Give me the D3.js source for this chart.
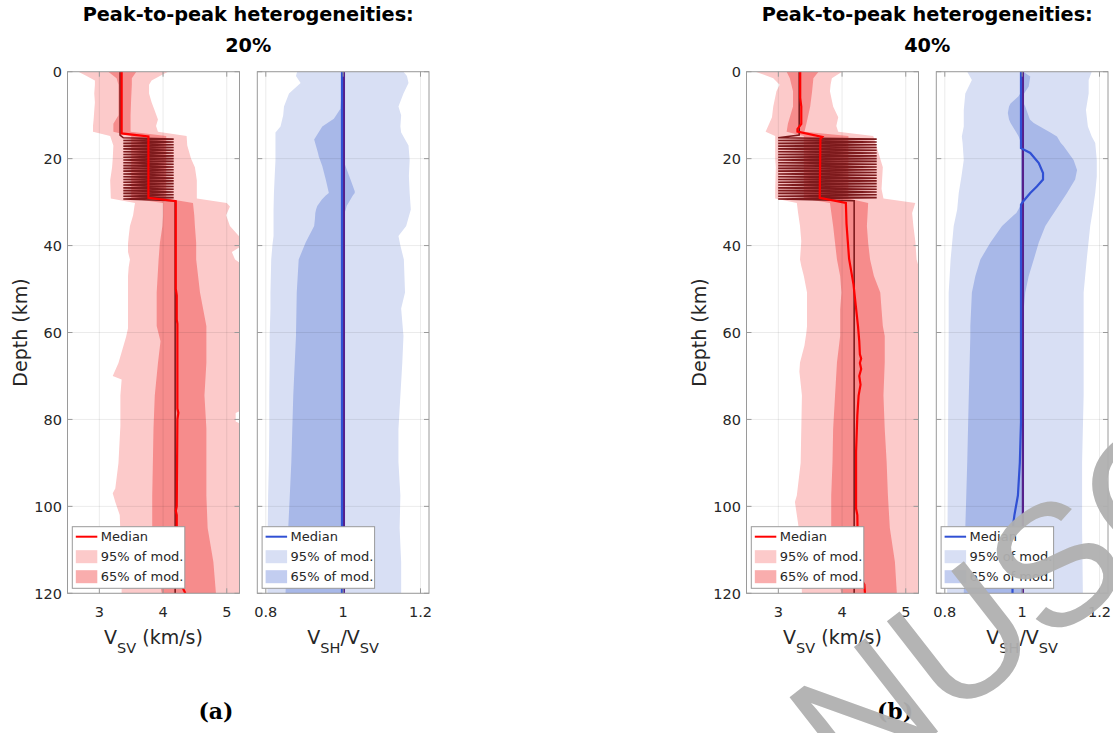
<!DOCTYPE html>
<html><head><meta charset="utf-8">
<script src="https://cdn.jsdelivr.net/npm/d3@7"></script>
<style>body{margin:0;background:#fff}svg{display:block}</style>
</head><body><svg id="c" width="1113" height="733"></svg>
<script>
// ---------------- DATA ----------------
const depthTicks=[0,20,40,60,80,100,120];
const vsvTicks=[3,4,5];
const ratioTicks=[0.8,1,1.2];
const vsvDomain=[2.5,5.2];
const ratioDomain=[0.778,1.222];
const depthDomain=[0,120];
const panelTitle1=["Peak-to-peak heterogeneities:","Peak-to-peak heterogeneities:"];
const panelTitle2=["20%","40%"];
const panelTags=["(a)","(b)"];
const legendLabels=["Median","95% of mod.","65% of mod."];
const watermarkText="MANUSCRIPT";

// zig-zag layered true model (15-29 km)
const zigDepth=[15.2,15.52,15.84,16.16,16.48,16.8,17.12,17.44,17.76,18.08,18.4,18.72,19.04,19.36,19.68,20.0,20.32,20.64,20.96,21.28,21.6,21.92,22.24,22.56,22.88,23.2,23.52,23.84,24.16,24.48,24.8,25.12,25.44,25.76,26.08,26.4,26.72,27.04,27.36,27.68,28.0,28.32,28.64,28.96,29.28];
const zigVsvA=[3.376,4.167,3.376,4.167,3.376,4.167,3.376,4.167,3.376,4.167,3.376,4.167,3.376,4.167,3.376,4.167,3.376,4.167,3.376,4.167,3.376,4.167,3.376,4.167,3.376,4.167,3.376,4.167,3.376,4.167,3.376,4.167,3.376,4.167,3.376,4.167,3.376,4.167,3.376,4.167,3.376,4.167,3.376,4.167,3.376];
const zigVsvB=[2.997,4.544,2.997,4.544,2.997,4.544,2.997,4.544,2.997,4.544,2.997,4.544,2.997,4.544,2.997,4.544,2.997,4.544,2.997,4.544,2.997,4.544,2.997,4.544,2.997,4.544,2.997,4.544,2.997,4.544,2.997,4.544,2.997,4.544,2.997,4.544,2.997,4.544,2.997,4.544,2.997,4.544,2.997,4.544,2.997];
const trueTopDepth=[0,14.6];
const trueBotDepth=[29.7,120];
const trueTopVsvA=[3.325,3.325], trueBotVsvA=[4.19,4.19];
const trueTopVsvB=[3.327,3.327], trueBotVsvB=[4.19,4.19];
const trueRatioDepth=[0,120], trueRatio=[1.002,1.002];

// panel (a) Vsv
const aVsvMedDepth=[0,14.2,14.9,29.0,29.8,50,51.5,57,58,77.5,78.5,80,100,101,102,117.5,118.5,120];
const aVsvMed=[3.35,3.35,3.77,3.77,4.20,4.20,4.215,4.215,4.225,4.225,4.24,4.225,4.215,4.20,4.215,4.215,4.30,4.35];
const aVsv95Depth=[0,1,2,3,5,7,9,11,12.5,13.8,14.8,17,20,22,25,29.2,30.2,31,33,35.5,38,39.5,41.5,43.2,45,47,59,61,63,67,70,70.8,74.5,77.5,78.5,80.5,81.5,90,95.9,97,99,102,110,120];
const aVsv95Lo=[2.67,2.80,2.93,2.93,2.92,2.93,2.92,2.91,2.90,2.90,3.17,3.22,3.21,3.20,3.17,3.18,3.56,3.55,3.53,3.48,3.46,3.45,3.45,3.48,3.46,3.45,3.45,3.42,3.38,3.30,3.21,3.35,3.33,3.33,3.33,3.33,3.33,3.30,3.25,3.21,3.25,3.32,3.34,3.35];
const aVsv95Hi=[4.08,3.95,3.82,3.78,3.78,3.82,3.87,3.92,3.89,3.92,4.37,4.38,4.44,4.50,4.53,4.53,5.00,5.05,4.99,5.05,5.20,5.30,5.08,5.13,5.30,5.30,5.30,5.30,5.30,5.30,5.30,5.30,5.30,5.30,5.14,5.14,5.30,5.30,5.30,5.30,5.30,5.30,5.30,5.30];
const aVsv65Depth=[0,1.5,3,6,10,12,13.8,14.8,29.2,30.2,33,35.5,39.4,43.2,50.8,58.5,62,67,74.5,82,90,97.5,105,112.8,120];
const aVsv65Lo=[3.14,3.27,3.30,3.30,3.30,3.22,3.22,3.50,3.50,4.00,4.00,3.99,3.95,3.93,3.90,3.90,3.96,3.92,3.87,3.85,3.84,3.83,3.83,3.88,3.98];
const aVsv65Hi=[3.58,3.51,3.51,3.50,3.49,3.49,3.49,4.05,4.05,4.47,4.49,4.50,4.52,4.52,4.58,4.68,4.68,4.68,4.65,4.68,4.68,4.68,4.70,4.79,4.83];

// panel (a) Vsh/Vsv
const aRatioMedDepth=[0,120];
const aRatioMed=[0.997,0.997];
const aRatio95Depth=[0,1,2.6,5,8,10,12.6,14,17,20.3,24,27.9,31.7,35.5,37.8,40,43.2,50.8,54.5,60.8,66.9,74.5,82.2,89.8,97.5,105,112.8,120];
const aRatio95Lo=[0.881,0.878,0.890,0.860,0.847,0.845,0.838,0.825,0.825,0.825,0.823,0.821,0.820,0.820,0.820,0.817,0.814,0.812,0.812,0.810,0.810,0.809,0.809,0.808,0.806,0.805,0.805,0.804];
const aRatio95Hi=[1.156,1.165,1.169,1.156,1.143,1.150,1.148,1.150,1.169,1.172,1.170,1.172,1.175,1.163,1.143,1.148,1.157,1.160,1.150,1.156,1.153,1.148,1.143,1.143,1.148,1.146,1.150,1.150];
const aRatio65Depth=[0,6,8.5,10.8,12.6,15.6,18.7,19.5,21.7,24.8,27.5,27.9,28.5,29.4,30.9,31.7,32.5,33.9,35.5,39.3,43.2,50.8,60.8,74.5,89.8,97.5,105,120];
const aRatio65Lo=[0.995,0.995,0.993,0.976,0.946,0.925,0.935,0.937,0.946,0.955,0.962,0.963,0.955,0.945,0.933,0.930,0.928,0.927,0.925,0.903,0.885,0.880,0.878,0.871,0.866,0.862,0.858,0.851];
const aRatio65Hi=[0.998,0.998,0.998,0.998,0.998,0.998,0.998,0.998,1.006,1.019,1.030,1.030,1.025,1.019,1.009,1.007,1.003,0.999,0.998,0.998,0.998,0.998,0.998,0.998,0.998,0.998,0.998,0.998];

// panel (b) Vsv
const bVsvMedDepth=[0,6,8,12,13.2,13.8,15.0,15.5,29.0,30.2,35,43,49,58.5,62,65,66,67,68.4,70,72,74.5,79,87.5,100.5,102,112.6,116,118,120];
const bVsvMed=[3.343,3.343,3.36,3.36,3.30,3.30,3.69,3.66,3.65,4.06,4.07,4.11,4.18,4.25,4.27,4.28,4.30,4.28,4.30,4.27,4.29,4.26,4.24,4.22,4.22,4.24,4.25,4.27,4.35,4.36];
const bVsv95Depth=[0,1.5,3,4.5,8,10.5,12.5,13.8,14.8,20,22,27,29.2,30.2,32.5,35.5,39,43.2,44.7,47,50.8,58.5,60,63,66.9,69,74.5,90,97.5,99,105,112.8,120];
const bVsv95Lo=[2.64,2.92,3.02,2.97,2.92,2.90,2.84,2.80,2.95,2.95,2.96,2.95,2.95,3.29,3.31,3.34,3.36,3.34,3.36,3.40,3.45,3.45,3.44,3.41,3.34,3.33,3.37,3.35,3.29,3.26,3.32,3.35,3.37];
const bVsv95Hi=[4.00,3.84,3.82,3.81,3.86,3.94,3.91,3.94,4.49,4.60,4.64,4.62,4.65,5.15,5.10,5.12,5.15,5.17,5.20,5.25,5.30,5.30,5.30,5.30,5.30,5.30,5.30,5.30,5.30,5.30,5.30,5.30,5.30];
const bVsv65Depth=[0,1.5,4.5,8,12,13.8,14.8,29.2,30.2,35.5,39.4,43.2,47,50.8,54.7,58.5,60.8,66.9,74.5,82.2,89.8,97.5,105,112.8,120];
const bVsv65Lo=[3.13,3.18,3.23,3.23,3.15,3.13,3.40,3.40,3.81,3.86,3.89,3.92,3.97,3.99,3.97,3.97,3.97,3.92,3.89,3.86,3.85,3.83,3.83,3.88,3.99];
const bVsv65Hi=[3.63,3.55,3.53,3.50,3.44,3.41,4.10,4.10,4.41,4.39,4.41,4.44,4.50,4.60,4.62,4.64,4.67,4.67,4.65,4.67,4.70,4.72,4.75,4.83,4.86];

// panel (b) Vsh/Vsv
const bRatioMedDepth=[0,17.6,18.7,21.0,23.3,24.8,26.4,27.9,29.8,30.6,80.6,90,97.5,102,104,120];
const bRatioMed=[0.997,0.997,1.021,1.043,1.054,1.054,1.038,1.021,1.003,0.997,0.997,0.994,0.989,0.980,0.977,0.975];
const bRatio95Depth=[0,1.9,5,8.8,12.6,14.9,16.4,20.3,24.1,27.9,31.7,35.5,43.2,50.8,60.8,74.5,89.8,105,120];
const bRatio95Lo=[0.858,0.870,0.853,0.849,0.849,0.844,0.846,0.849,0.843,0.836,0.832,0.823,0.815,0.810,0.810,0.809,0.808,0.807,0.806];
const bRatio95Hi=[1.180,1.172,1.172,1.165,1.170,1.180,1.189,1.193,1.193,1.189,1.183,1.176,1.167,1.159,1.159,1.159,1.155,1.155,1.157];
const bRatio65Depth=[0,1.1,3.4,5,5.7,7.3,8,9.5,11,11.8,14,14.9,16.4,17.1,20.3,22.6,24.8,27.9,30.2,30.6,32.5,33,35.5,39.3,43.2,47,50.8,54.7,58.5,60.8,74.5,89.8,105,120];
const bRatio65Lo=[0.997,0.997,0.996,0.995,0.990,0.970,0.966,0.963,0.966,0.970,0.985,0.991,0.997,0.997,0.997,0.997,0.997,0.997,0.997,0.997,0.985,0.978,0.948,0.918,0.892,0.879,0.870,0.868,0.866,0.866,0.862,0.858,0.853,0.849];
const bRatio65Hi=[1.003,1.021,1.017,1.005,1.003,1.004,1.008,1.014,1.020,1.030,1.073,1.090,1.100,1.107,1.133,1.142,1.137,1.116,1.099,1.096,1.082,1.078,1.060,1.043,1.030,1.017,1.008,1.004,1.001,1.000,1.000,1.000,1.000,1.000];

// ---------------- STYLE / LAYOUT ----------------
const FONT="'DejaVu Sans', sans-serif";
const C={red95:"#fccaca",red65:"#f68c8c",red65leg:"#f9adad",redMed:"#ff0000",redTrue:"#7d1a1c",
         blue95:"#d8dff4",blue65:"#a8b8e8",blue65leg:"#c2cdf0",blueMed:"#3050d4",blueTrue:"#55208c",
         axis:"#9a9a9a",grid:"rgba(0,0,0,0.08)",text:"#262626"};
const plotTop=71.7, plotBottom=593.3;
const panelDx=[0,679];
const vsvBox=[67.5,239.5], ratioBox=[257.3,429.0];

const svg=d3.select("#c");
svg.append("rect").attr("width",1113).attr("height",733).attr("fill","#fff");
const yScale=d3.scaleLinear().domain(depthDomain).range([plotTop,plotBottom]);

function zip(dep,lo,hi){return dep.map((d,i)=>({d:d,lo:lo[i],hi:hi?hi[i]:null}));}

let clipId=0;
function drawPlot(cfg){
  const x=d3.scaleLinear().domain(cfg.domain).range(cfg.box);
  const g=svg.append("g");
  const id="clip"+(clipId++);
  g.append("clipPath").attr("id",id).append("rect")
    .attr("x",cfg.box[0]).attr("y",plotTop).attr("width",cfg.box[1]-cfg.box[0]).attr("height",plotBottom-plotTop);
  const inner=g.append("g").attr("clip-path",`url(#${id})`);
  const area=d3.area().x0(p=>x(p.lo)).x1(p=>x(p.hi)).y(p=>yScale(p.d));
  cfg.bands.forEach(b=>{
    inner.append("path").datum(zip(b.depth,b.lo,b.hi)).attr("d",area).attr("fill",b.color);
  });
  // grid
  cfg.ticks.forEach(t=>inner.append("line").attr("x1",x(t)).attr("x2",x(t)).attr("y1",plotTop).attr("y2",plotBottom)
     .attr("stroke",C.grid).attr("stroke-width",1));
  depthTicks.forEach(t=>inner.append("line").attr("x1",cfg.box[0]).attr("x2",cfg.box[1]).attr("y1",yScale(t)).attr("y2",yScale(t))
     .attr("stroke",C.grid).attr("stroke-width",1));
  const line=d3.line().x(p=>x(p.lo)).y(p=>yScale(p.d));
  cfg.lines.forEach(l=>{
    inner.append("path").datum(zip(l.depth,l.val)).attr("d",line).attr("fill","none")
      .attr("stroke",l.color).attr("stroke-width",l.width).attr("stroke-linejoin","miter");
  });
  // box
  g.append("rect").attr("x",cfg.box[0]).attr("y",plotTop).attr("width",cfg.box[1]-cfg.box[0]).attr("height",plotBottom-plotTop)
    .attr("fill","none").attr("stroke",C.axis).attr("stroke-width",1);
  const tl=5;
  cfg.ticks.forEach(t=>{
    g.append("line").attr("x1",x(t)).attr("x2",x(t)).attr("y1",plotBottom).attr("y2",plotBottom-tl).attr("stroke",C.axis);
    g.append("line").attr("x1",x(t)).attr("x2",x(t)).attr("y1",plotTop).attr("y2",plotTop+tl).attr("stroke",C.axis);
    g.append("text").attr("x",x(t)).attr("y",plotBottom+23.4).attr("text-anchor","middle")
      .attr("font-family",FONT).attr("font-size",14.5).attr("fill",C.text).text(d3.format("~g")(t));
  });
  depthTicks.forEach(t=>{
    g.append("line").attr("x1",cfg.box[0]).attr("x2",cfg.box[0]+tl).attr("y1",yScale(t)).attr("y2",yScale(t)).attr("stroke",C.axis);
    g.append("line").attr("x1",cfg.box[1]).attr("x2",cfg.box[1]-tl).attr("y1",yScale(t)).attr("y2",yScale(t)).attr("stroke",C.axis);
    if(cfg.showY) g.append("text").attr("x",cfg.box[0]-5.5).attr("y",yScale(t)).attr("dy","0.36em").attr("text-anchor","end")
      .attr("font-family",FONT).attr("font-size",14.5).attr("fill",C.text).text(t);
  });
  // x label
  const xl=g.append("text").attr("x",(cfg.box[0]+cfg.box[1])/2).attr("y",plotBottom+51).attr("text-anchor","middle")
    .attr("font-family",FONT).attr("font-size",19).attr("fill",C.text);
  cfg.xlabel.forEach(part=>{
    const ts=xl.append("tspan").text(part.t);
    if(part.sub) ts.attr("font-size",14.5).attr("dy",9);
    else if(part.after) ts.attr("dy",-9);
  });
  if(cfg.showY){
    g.append("text").attr("transform",`translate(${cfg.box[0]-40.5},${(plotTop+plotBottom)/2}) rotate(-90)`)
      .attr("text-anchor","middle").attr("font-family",FONT).attr("font-size",19).attr("fill",C.text).text("Depth (km)");
  }
  // legend
  const lg=g.append("g").attr("transform",`translate(${cfg.box[0]+4.8},526.7)`);
  lg.append("rect").attr("width",112.5).attr("height",61.6).attr("fill","#fff").attr("stroke",C.axis).attr("stroke-width",1);
  lg.append("line").attr("x1",3.5).attr("x2",25).attr("y1",10).attr("y2",10).attr("stroke",cfg.legend[0]).attr("stroke-width",2);
  lg.append("rect").attr("x",3.5).attr("y",23.5).attr("width",21.5).attr("height",13).attr("fill",cfg.legend[1]);
  lg.append("rect").attr("x",3.5).attr("y",43.5).attr("width",21.5).attr("height",13).attr("fill",cfg.legend[2]);
  legendLabels.forEach((s,i)=>lg.append("text").attr("x",28.5).attr("y",10+20*i).attr("dy","0.36em")
    .attr("font-family",FONT).attr("font-size",13).attr("fill",C.text).text(s));
}

const vsvLabel=[{t:"V"},{t:"SV",sub:true},{t:" (km/s)",after:true}];
const ratioLabel=[{t:"V"},{t:"SH",sub:true},{t:"/V",after:true},{t:"SV",sub:true}];

const panelData=[
 {vsv95:[aVsv95Depth,aVsv95Lo,aVsv95Hi],vsv65:[aVsv65Depth,aVsv65Lo,aVsv65Hi],vsvMed:[aVsvMedDepth,aVsvMed],
  trueVsv:[trueTopDepth.concat(zigDepth,trueBotDepth),trueTopVsvA.concat(zigVsvA,trueBotVsvA)],
  r95:[aRatio95Depth,aRatio95Lo,aRatio95Hi],r65:[aRatio65Depth,aRatio65Lo,aRatio65Hi],rMed:[aRatioMedDepth,aRatioMed]},
 {vsv95:[bVsv95Depth,bVsv95Lo,bVsv95Hi],vsv65:[bVsv65Depth,bVsv65Lo,bVsv65Hi],vsvMed:[bVsvMedDepth,bVsvMed],
  trueVsv:[trueTopDepth.concat(zigDepth,trueBotDepth),trueTopVsvB.concat(zigVsvB,trueBotVsvB)],
  r95:[bRatio95Depth,bRatio95Lo,bRatio95Hi],r65:[bRatio65Depth,bRatio65Lo,bRatio65Hi],rMed:[bRatioMedDepth,bRatioMed]}
];

panelData.forEach((p,i)=>{
  const dx=panelDx[i];
  drawPlot({domain:vsvDomain,box:[vsvBox[0]+dx,vsvBox[1]+dx],ticks:vsvTicks,showY:true,xlabel:vsvLabel,
    bands:[{depth:p.vsv95[0],lo:p.vsv95[1],hi:p.vsv95[2],color:C.red95},{depth:p.vsv65[0],lo:p.vsv65[1],hi:p.vsv65[2],color:C.red65}],
    lines:[{depth:p.trueVsv[0],val:p.trueVsv[1],color:C.redTrue,width:1.6},{depth:p.vsvMed[0],val:p.vsvMed[1],color:C.redMed,width:2.2}],
    legend:[C.redMed,C.red95,C.red65leg]});
  drawPlot({domain:ratioDomain,box:[ratioBox[0]+dx,ratioBox[1]+dx],ticks:ratioTicks,showY:false,xlabel:ratioLabel,
    bands:[{depth:p.r95[0],lo:p.r95[1],hi:p.r95[2],color:C.blue95},{depth:p.r65[0],lo:p.r65[1],hi:p.r65[2],color:C.blue65}],
    lines:[{depth:trueRatioDepth,val:trueRatio,color:C.blueTrue,width:2.2},{depth:p.rMed[0],val:p.rMed[1],color:C.blueMed,width:2.2}],
    legend:[C.blueMed,C.blue95,C.blue65leg]});
  const cx=(vsvBox[0]+ratioBox[1])/2+dx;
  svg.append("text").attr("x",cx).attr("y",20.7).attr("text-anchor","middle").attr("font-family",FONT)
    .attr("font-weight","bold").attr("font-size",19.3).attr("fill","#000").text(panelTitle1[i]);
  svg.append("text").attr("x",cx).attr("y",51.7).attr("text-anchor","middle").attr("font-family",FONT)
    .attr("font-weight","bold").attr("font-size",19.3).attr("fill","#000").text(panelTitle2[i]);
  svg.append("text").attr("x",216+dx).attr("y",719).attr("text-anchor","middle").attr("font-family","'DejaVu Serif', serif")
    .attr("font-weight","bold").attr("font-size",22).attr("fill","#000").text(panelTags[i]);
});

// watermark
svg.append("text").attr("transform","translate(648,958) rotate(-38)")
  .attr("font-family","'Liberation Sans', sans-serif").attr("font-size",172).attr("fill","#b0b0b0")
  .attr("opacity",0.95).text(watermarkText);
</script>
</body></html>
